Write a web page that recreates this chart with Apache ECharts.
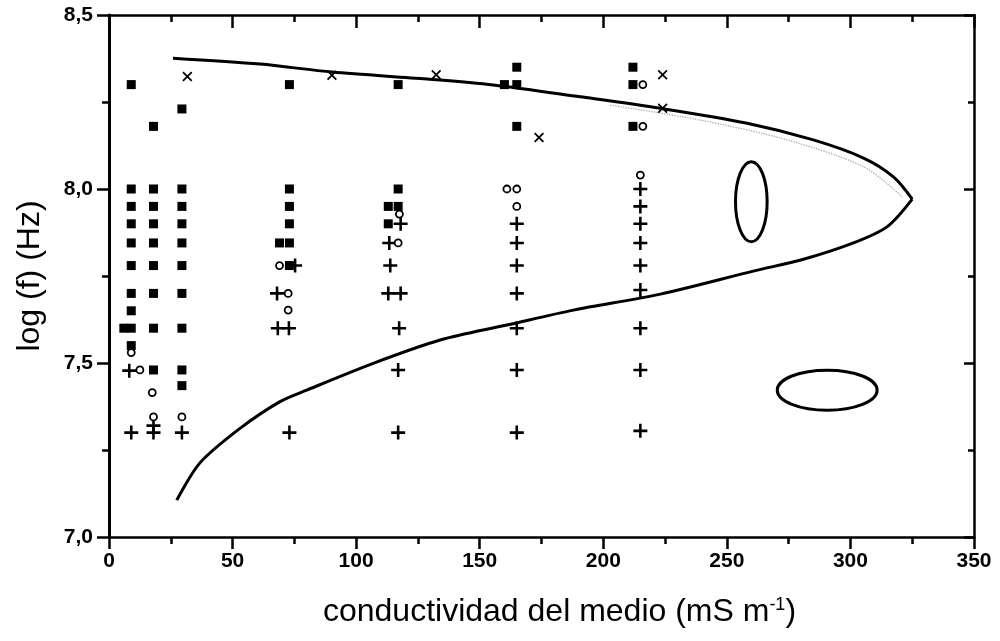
<!DOCTYPE html>
<html>
<head>
<meta charset="utf-8">
<script src="https://cdn.jsdelivr.net/npm/echarts@6/dist/echarts.min.js"></script>
<style>
  html, body { margin: 0; padding: 0; background: #fff; }
  #chart { width: 1000px; height: 641px; }
</style>
</head>
<body>
<div id="chart"></div>
<script>
// Medium conductivity (mS m^-1) vs. log frequency (Hz) for each observed response.

// filled squares
const squarePoints = [
  [9, 8.30], [9, 8.0], [9, 7.95], [9, 7.90], [9, 7.845], [9, 7.78], [9, 7.70], [9, 7.65],
  [6, 7.60], [9, 7.60], [9, 7.55],
  [18, 8.18], [18, 8.0], [18, 7.95], [18, 7.90], [18, 7.845], [18, 7.78], [18, 7.70], [18, 7.60], [18, 7.48],
  [29.5, 8.23], [29.5, 8.0], [29.5, 7.95], [29.5, 7.90], [29.5, 7.845], [29.5, 7.78], [29.5, 7.70],
  [29.5, 7.60], [29.5, 7.48], [29.5, 7.435],
  [73, 8.30], [73, 8.0], [73, 7.95], [73, 7.90], [69, 7.845], [73, 7.845], [73, 7.78],
  [117, 8.30], [117, 8.0], [113, 7.95], [117, 7.95], [113, 7.90],
  [165, 8.35], [160, 8.30], [165, 8.30], [165, 8.18],
  [212, 8.35], [212, 8.30], [212, 8.18]
];

// open circles
const circlePoints = [
  [9, 7.53], [12.5, 7.48], [17.5, 7.415], [18, 7.345], [29.5, 7.345],
  [69, 7.78], [72.5, 7.70], [72.5, 7.652],
  [117.5, 7.928], [117, 7.845],
  [161, 8.0], [165, 8.0], [165, 7.95],
  [216, 8.30], [216, 8.18], [215, 8.04]
];

// plus signs
const plusPoints = [
  [8.2, 7.478], [9, 7.30],
  [18, 7.32], [18, 7.30],
  [29.5, 7.30],
  [75.3, 7.78], [68, 7.70], [68.3, 7.60], [72.8, 7.60], [73, 7.30],
  [118, 7.90], [113.4, 7.845], [113.8, 7.78], [113, 7.70], [118, 7.70], [117.4, 7.60], [117, 7.48], [117, 7.30],
  [165, 7.90], [165, 7.845], [165, 7.78], [165, 7.70], [165, 7.60], [165, 7.48], [165, 7.30],
  [215, 8.0], [215, 7.95], [215, 7.90], [215, 7.845], [215, 7.78], [215, 7.71], [215, 7.60], [215, 7.48], [215, 7.305]
];

// crosses
const crossPoints = [
  [31.7, 8.323], [90.2, 8.327], [132.4, 8.328], [174, 8.148], [224, 8.328], [224, 8.232]
];

// boundary curve: upper branch (left to tip) and lower branch (tip back to left)
const upperBranch = [
  [25.9, 8.376], [61.1, 8.359], [90.3, 8.336], [128.7, 8.316], [155.5, 8.299], [190.7, 8.265],
  [223.1, 8.232], [258.2, 8.189], [285, 8.141], [305.3, 8.089], [317.4, 8.035], [325, 7.971]
];
const lowerBranch = [
  [325, 7.971], [314.9, 7.892], [301.2, 7.845], [281, 7.798], [260.7, 7.764],
  [223.1, 7.698], [187.9, 7.652], [161, 7.609], [134, 7.566], [106.9, 7.499], [80, 7.422],
  [69.2, 7.389], [53, 7.312], [36.8, 7.213], [27.4, 7.106]
];
// faint trace just under the upper branch
const faintBranch = [
  [202.8, 8.241], [239.3, 8.198], [274.5, 8.141], [305.3, 8.064], [320.9, 7.978]
];

// ellipses: [centre x, centre y, half-width, half-height]
const ellipses = [
  [259.9, 7.9635, 6.4, 0.115],
  [290.6, 7.422, 20.2, 0.0575]
];

const yTickLabels = ['7,0', '7,5', '8,0', '8,5'];
const xTickLabels = ['0', '50', '100', '150', '200', '250', '300', '350'];

const PLUS = 'path://M4.9,0H7.1V4.9H12V7.1H7.1V12H4.9V7.1H0V4.9H4.9Z';
const CROSS = 'path://M1.5,0L6,4.5L10.5,0L12,1.5L7.5,6L12,10.5L10.5,12L6,7.5L1.5,12L0,10.5L4.5,6L0,1.5Z';

const FONT = 'Liberation Sans, Arial, sans-serif';
const tickFont = { fontFamily: FONT, fontSize: 21, fontWeight: 'bold', color: '#000' };
const axisLine = { show: true, onZero: false, lineStyle: { color: '#000', width: 2.5 } };

const chart = echarts.init(document.getElementById('chart'), null, { renderer: 'canvas' });

chart.setOption({
  animation: false,
  backgroundColor: '#fff',
  grid: { left: 109, right: 26, top: 15, bottom: 104, containLabel: false, outerBoundsMode: 'none' },
  xAxis: [
    {
      type: 'value', position: 'bottom', min: 0, max: 350, interval: 50,
      axisLine: axisLine,
      axisTick: { show: true, inside: false, length: 12, lineStyle: { color: '#000', width: 2.5 } },
      minorTick: { show: true, splitNumber: 2, length: 7, lineStyle: { color: '#000', width: 2.5 } },
      axisLabel: Object.assign({ margin: 14, formatter: (v, i) => xTickLabels[i] }, tickFont),
      splitLine: { show: false },
      name: 'conductividad del medio (mS m{sup|-1})',
      nameLocation: 'middle', nameGap: 59,
      nameTextStyle: {
        fontFamily: FONT, fontSize: 32, color: '#000',
        padding: [0, 0, 0, 36],
        rich: { sup: { fontFamily: FONT, fontSize: 18, verticalAlign: 'top', padding: [0, 0, 15, 0], color: '#000' } }
      }
    },
    {
      type: 'value', position: 'top', min: 0, max: 350, interval: 50,
      axisLine: axisLine,
      axisTick: { show: true, inside: true, length: 13, lineStyle: { color: '#000', width: 2.5 } },
      minorTick: { show: true, splitNumber: 2, length: 7, lineStyle: { color: '#000', width: 2.5 } },
      axisLabel: { show: false },
      splitLine: { show: false }
    }
  ],
  yAxis: [
    {
      type: 'value', position: 'left', min: 7, max: 8.5, interval: 0.5,
      axisLine: { show: true, onZero: false, lineStyle: { color: '#000', width: 3 } },
      axisTick: { show: true, inside: false, length: 12, lineStyle: { color: '#000', width: 2.5 } },
      minorTick: { show: true, splitNumber: 2, length: 7, lineStyle: { color: '#000', width: 2.5 } },
      axisLabel: Object.assign({ margin: 16, formatter: (v, i) => yTickLabels[i] }, tickFont),
      splitLine: { show: false },
      name: 'log (f) (Hz)',
      nameLocation: 'middle', nameGap: 63, nameRotate: 90,
      nameTextStyle: { fontFamily: FONT, fontSize: 32, color: '#000' }
    },
    {
      type: 'value', position: 'right', min: 7, max: 8.5, interval: 0.5,
      axisLine: axisLine,
      axisTick: { show: true, inside: true, length: 10, lineStyle: { color: '#000', width: 2.5 } },
      minorTick: { show: true, splitNumber: 2, length: 6, lineStyle: { color: '#000', width: 2.5 } },
      axisLabel: { show: false },
      splitLine: { show: false }
    }
  ],
  series: [
    {
      name: 'traza', type: 'line', data: faintBranch, smooth: 0.3, symbol: 'none',
      lineStyle: { color: '#a8a8a8', width: 1.3, type: 'dotted' }, z: 1
    },
    {
      name: 'rama superior', type: 'line', data: upperBranch, smooth: 0.3, symbol: 'none',
      lineStyle: { color: '#000', width: 3 }, z: 2
    },
    {
      name: 'rama inferior', type: 'line', data: lowerBranch, smooth: 0.3, symbol: 'none',
      lineStyle: { color: '#000', width: 3 }, z: 2
    },
    {
      name: 'elipses', type: 'custom', data: ellipses,
      encode: { x: 0, y: 1 },
      renderItem: function (params, api) {
        const c = api.coord([api.value(0), api.value(1)]);
        const s = api.size([api.value(2), api.value(3)]);
        const rx = s[0], ry = s[1];
        const d = 'M' + (c[0] - rx) + ',' + c[1] +
          ' A' + rx + ',' + ry + ' 0 1,0 ' + (c[0] + rx) + ',' + c[1] +
          ' A' + rx + ',' + ry + ' 0 1,0 ' + (c[0] - rx) + ',' + c[1] + ' Z';
        return { type: 'path', shape: { pathData: d }, style: { fill: 'none', stroke: '#000', lineWidth: 3 } };
      },
      z: 2
    },
    {
      name: 'cuadrados', type: 'scatter', data: squarePoints, symbol: 'rect', symbolSize: 9,
      itemStyle: { color: '#000', opacity: 1 }, z: 3
    },
    {
      name: 'cruces', type: 'scatter', data: plusPoints, symbol: PLUS, symbolSize: 14,
      itemStyle: { color: '#000', opacity: 1 }, z: 4
    },
    {
      name: 'aspas', type: 'scatter', data: crossPoints, symbol: CROSS, symbolSize: 10,
      itemStyle: { color: '#000', opacity: 1 }, z: 4
    },
    {
      name: 'círculos', type: 'scatter', data: circlePoints, symbol: 'circle', symbolSize: 7,
      itemStyle: { color: '#fff', borderColor: '#000', borderWidth: 1.8, opacity: 1 }, z: 5
    }
  ]
});
</script>
</body>
</html>
